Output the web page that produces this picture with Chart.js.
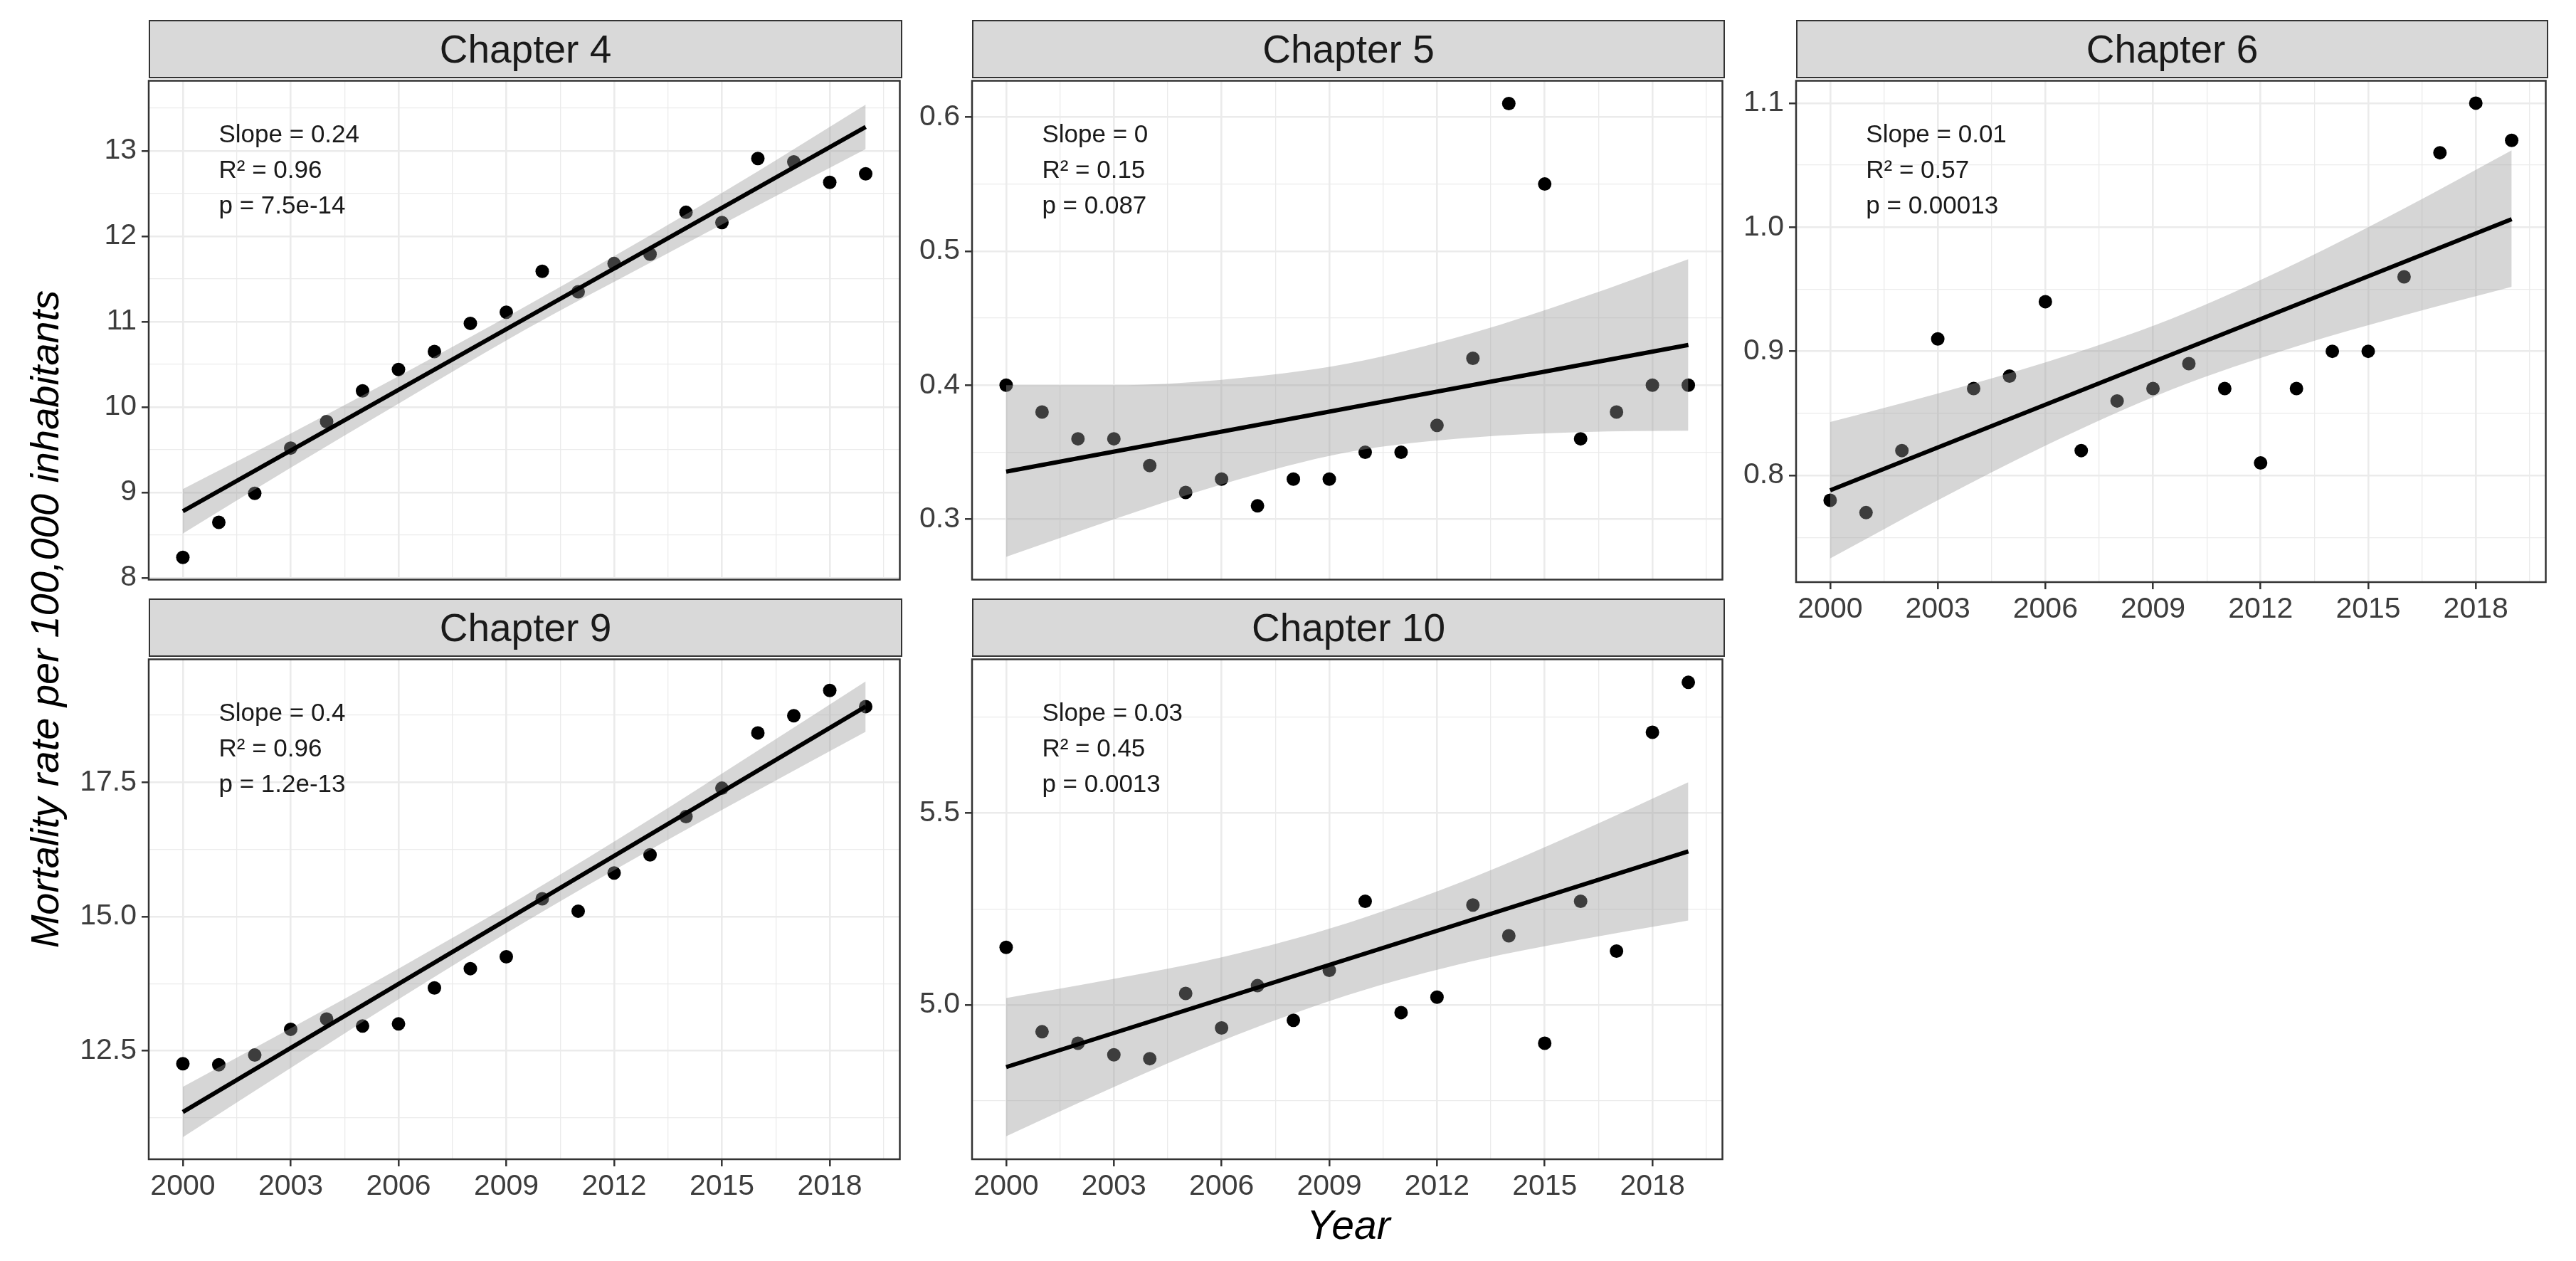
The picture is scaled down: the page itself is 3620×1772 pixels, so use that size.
<!DOCTYPE html>
<html lang="en">
<head>
<meta charset="UTF-8">
<title>Mortality rate per chapter, 2000-2019</title>
<script src="https://cdn.jsdelivr.net/npm/chart.js"></script>
<style>
  body {
    margin: 0;
    width: 3620px;
    height: 1772px;
    position: relative;
    overflow: hidden;
    background: #fff;
    font-family: 'Liberation Sans', Arial, sans-serif;
  }
  canvas { position: absolute; }
  .strip {
    position: absolute;
    box-sizing: border-box;
    height: 82px;
    background: #d9d9d9;
    border: 2.5px solid #333;
    color: #1a1a1a;
    font-size: 55px;
    display: flex;
    align-items: center;
    justify-content: center;
  }
  .ytitle {
    position: absolute;
    left: 62px;
    top: 870px;
    transform: translate(-50%, -50%) rotate(-90deg);
    font-size: 56px;
    font-style: italic;
    white-space: nowrap;
    color: #000;
  }
  .xtitle {
    position: absolute;
    left: 1895px;
    top: 1721px;
    transform: translate(-50%, -50%);
    font-size: 57px;
    font-style: italic;
    color: #000;
  }
</style>
</head>
<body>

<div class="ytitle">Mortality rate per 100,000 inhabitants</div>
<div class="xtitle">Year</div>

<script>
  // ---- data ----
  const years = [2000, 2001, 2002, 2003, 2004, 2005, 2006, 2007, 2008, 2009,
                 2010, 2011, 2012, 2013, 2014, 2015, 2016, 2017, 2018, 2019];
  const yearTicks = [2000, 2003, 2006, 2009, 2012, 2015, 2018];

  const ch4Rates  = [8.24, 8.65, 8.99, 9.52, 9.83, 10.19, 10.44, 10.65, 10.98, 11.11,
                     11.59, 11.35, 11.68, 11.79, 12.28, 12.16, 12.91, 12.87, 12.63, 12.73];
  const ch5Rates  = [0.40, 0.38, 0.36, 0.36, 0.34, 0.32, 0.33, 0.31, 0.33, 0.33,
                     0.35, 0.35, 0.37, 0.42, 0.61, 0.55, 0.36, 0.38, 0.40, 0.40];
  const ch6Rates  = [0.78, 0.77, 0.82, 0.91, 0.87, 0.88, 0.94, 0.82, 0.86, 0.87,
                     0.89, 0.87, 0.81, 0.87, 0.90, 0.90, 0.96, 1.06, 1.10, 1.07];
  const ch9Rates  = [12.26, 12.24, 12.42, 12.90, 13.09, 12.96, 13.00, 13.67, 14.03, 14.25,
                     15.33, 15.10, 15.81, 16.15, 16.86, 17.39, 18.42, 18.74, 19.21, 18.91];
  const ch10Rates = [5.15, 4.93, 4.90, 4.87, 4.86, 5.03, 4.94, 5.05, 4.96, 5.09,
                     5.27, 4.98, 5.02, 5.26, 5.18, 4.90, 5.27, 5.14, 5.71, 5.84];

  // fitted line at 2000 and 2019
  const fitYears = [2000, 2019];
  const ch4Fit  = [8.78, 13.28];
  const ch5Fit  = [0.3355, 0.430];
  const ch6Fit  = [0.788, 1.0065];
  const ch9Fit  = [11.36, 18.91];
  const ch10Fit = [4.838, 5.40];

  // confidence band edges, read at these years
  const bandYears = [2000, 2003, 2006, 2009.5, 2013, 2016, 2019];
  const ch4Upper  = [9.04, 9.69, 10.36, 11.17, 12.01, 12.76, 13.54];
  const ch4Lower  = [8.52, 9.29, 10.04, 10.90, 11.69, 12.36, 13.02];
  const ch5Upper  = [0.400, 0.400, 0.404, 0.416, 0.439, 0.465, 0.494];
  const ch5Lower  = [0.272, 0.300, 0.326, 0.350, 0.361, 0.365, 0.366];
  const ch6Upper  = [0.843, 0.866, 0.891, 0.926, 0.971, 1.015, 1.062];
  const ch6Lower  = [0.733, 0.780, 0.824, 0.869, 0.904, 0.929, 0.952];
  const ch9Upper  = [11.83, 12.92, 14.03, 15.38, 16.81, 18.09, 19.38];
  const ch9Lower  = [10.89, 12.18, 13.46, 14.89, 16.24, 17.35, 18.44];
  const ch10Upper = [5.018, 5.068, 5.124, 5.213, 5.332, 5.452, 5.580];
  const ch10Lower = [4.658, 4.786, 4.906, 5.025, 5.114, 5.170, 5.220];

  // y axis ticks and labels
  const ch4YTicks  = [8, 9, 10, 11, 12, 13];
  const ch4YLabels = ['8', '9', '10', '11', '12', '13'];
  const ch5YTicks  = [0.3, 0.4, 0.5, 0.6];
  const ch5YLabels = ['0.3', '0.4', '0.5', '0.6'];
  const ch6YTicks  = [0.8, 0.9, 1.0, 1.1];
  const ch6YLabels = ['0.8', '0.9', '1.0', '1.1'];
  const ch9YTicks  = [12.5, 15, 17.5];
  const ch9YLabels = ['12.5', '15.0', '17.5'];
  const ch10YTicks  = [5.0, 5.5];
  const ch10YLabels = ['5.0', '5.5'];

  const ch4Stats  = ['Slope = 0.24', 'R\u00B2 = 0.96', 'p = 7.5e-14'];
  const ch5Stats  = ['Slope = 0', 'R\u00B2 = 0.15', 'p = 0.087'];
  const ch6Stats  = ['Slope = 0.01', 'R\u00B2 = 0.57', 'p = 0.00013'];
  const ch9Stats  = ['Slope = 0.4', 'R\u00B2 = 0.96', 'p = 1.2e-13'];
  const ch10Stats = ['Slope = 0.03', 'R\u00B2 = 0.45', 'p = 0.0013'];

  // ---- layout (pixels of the plot area of each panel) ----
  const panels = [
    { title: 'Chapter 4',  left: 209,  top: 110, w: 1059, h: 708, yMin: 7.98,  yMax: 13.82, rates: ch4Rates,  fit: ch4Fit,  up: ch4Upper,  lo: ch4Lower,  yt: ch4YTicks,  yl: ch4YLabels,  stats: ch4Stats,  xLabels: false },
    { title: 'Chapter 5',  left: 1366, top: 110, w: 1058, h: 708, yMin: 0.255, yMax: 0.627, rates: ch5Rates,  fit: ch5Fit,  up: ch5Upper,  lo: ch5Lower,  yt: ch5YTicks,  yl: ch5YLabels,  stats: ch5Stats,  xLabels: false },
    { title: 'Chapter 6',  left: 2524, top: 110, w: 1057, h: 708, yMin: 0.714, yMax: 1.118, rates: ch6Rates,  fit: ch6Fit,  up: ch6Upper,  lo: ch6Lower,  yt: ch6YTicks,  yl: ch6YLabels,  stats: ch6Stats,  xLabels: true },
    { title: 'Chapter 9',  left: 209,  top: 923, w: 1059, h: 706, yMin: 10.48, yMax: 19.79, rates: ch9Rates,  fit: ch9Fit,  up: ch9Upper,  lo: ch9Lower,  yt: ch9YTicks,  yl: ch9YLabels,  stats: ch9Stats,  xLabels: true },
    { title: 'Chapter 10', left: 1366, top: 923, w: 1058, h: 706, yMin: 4.598, yMax: 5.90,  rates: ch10Rates, fit: ch10Fit, up: ch10Upper, lo: ch10Lower, yt: ch10YTicks, yl: ch10YLabels, stats: ch10Stats, xLabels: true }
  ];

  const X_MIN = 1999.05, X_MAX = 2019.95;
  const FONT = "'Liberation Sans', Arial, sans-serif";
  const TICK_COLOR = '#3d3d3d';

  const near = (a, b) => Math.abs(a - b) < 1e-6;
  const pairs = (xs, ys) => xs.map((x, i) => ({ x: x, y: ys[i] }));

  // majors plus the ggplot-style minor lines halfway between them
  function withMinors(majors, lo, hi) {
    const step = majors[1] - majors[0];
    const all = majors.slice();
    for (let i = -1; i < majors.length; i++) {
      const m = majors[0] + (i + 0.5) * step;
      if (m > lo && m < hi) all.push(m);
    }
    return all.sort((a, b) => a - b);
  }

  // stats text + panel border
  const panelDecor = {
    id: 'panelDecor',
    afterDatasetsDraw(chart, args, opts) {
      const { ctx, chartArea, scales } = chart;
      ctx.save();
      ctx.font = '35px ' + FONT;
      ctx.fillStyle = '#1a1a1a';
      ctx.textBaseline = 'middle';
      ctx.textAlign = 'left';
      const x = scales.x.getPixelForValue(2001);
      opts.lines.forEach((t, i) => ctx.fillText(t, x, chartArea.top + 77 + i * 50));
      ctx.strokeStyle = '#333';
      ctx.lineWidth = 2.5;
      ctx.strokeRect(chartArea.left, chartArea.top, chartArea.right - chartArea.left, chartArea.bottom - chartArea.top);
      ctx.restore();
    }
  };

  function buildPanel(p) {
    const yW = 150, padT = 6, padR = 6;
    const xH = p.xLabels ? 80 : 0;
    const padB = p.xLabels ? 0 : 6;

    const strip = document.createElement('div');
    strip.className = 'strip';
    strip.style.left = p.left + 'px';
    strip.style.top = (p.top - 82) + 'px';
    strip.style.width = p.w + 'px';
    strip.textContent = p.title;
    document.body.appendChild(strip);

    const cv = document.createElement('canvas');
    cv.width = p.w + yW + padR;
    cv.height = p.h + padT + xH + padB;
    cv.style.left = (p.left - yW) + 'px';
    cv.style.top = (p.top - padT) + 'px';
    document.body.appendChild(cv);

    const xAll = withMinors(yearTicks, X_MIN, X_MAX);
    const yAll = withMinors(p.yt, p.yMin, p.yMax);
    const isMajorX = v => yearTicks.some(t => near(t, v));
    const isMajorY = v => p.yt.some(t => near(t, v));

    new Chart(cv, {
      type: 'line',
      data: {
        datasets: [
          { // fitted line
            data: pairs(fitYears, p.fit),
            borderColor: '#000', borderWidth: 6, pointRadius: 0, fill: false, order: 0
          },
          { // upper band edge, filled down to the lower one
            data: pairs(bandYears, p.up),
            borderWidth: 0, borderColor: 'rgba(0,0,0,0)', pointRadius: 0,
            backgroundColor: 'rgba(153,153,153,0.4)', fill: '+1',
            cubicInterpolationMode: 'monotone', order: 1
          },
          { // lower band edge
            data: pairs(bandYears, p.lo),
            borderWidth: 0, borderColor: 'rgba(0,0,0,0)', pointRadius: 0, fill: false,
            cubicInterpolationMode: 'monotone', order: 2
          },
          { // observed rates
            data: pairs(years, p.rates),
            showLine: false, pointRadius: 9.5, pointBackgroundColor: '#000',
            pointBorderWidth: 0, order: 3
          }
        ]
      },
      options: {
        responsive: false,
        animation: false,
        events: [],
        layout: { padding: { top: padT, right: padR, bottom: padB, left: 0 } },
        plugins: {
          legend: { display: false },
          tooltip: { enabled: false },
          panelDecor: { lines: p.stats }
        },
        scales: {
          x: {
            type: 'linear', min: X_MIN, max: X_MAX,
            afterBuildTicks: s => { s.ticks = xAll.map(v => ({ value: v })); },
            afterFit: s => { s.height = xH; s.paddingLeft = 0; s.paddingRight = 0; },
            ticks: {
              display: p.xLabels, autoSkip: false, maxRotation: 0, padding: 4,
              color: TICK_COLOR, font: { size: 41, family: FONT },
              callback: v => isMajorX(v) ? String(Math.round(v)) : ''
            },
            grid: {
              color: '#ebebeb',
              lineWidth: c => (c.tick && isMajorX(c.tick.value)) ? 2.6 : 1.3,
              drawTicks: p.xLabels, tickLength: 10, tickWidth: 2.5,
              tickColor: c => (c.tick && isMajorX(c.tick.value)) ? '#333' : 'rgba(0,0,0,0)'
            },
            border: { display: false }
          },
          y: {
            type: 'linear', min: p.yMin, max: p.yMax,
            afterBuildTicks: s => { s.ticks = yAll.map(v => ({ value: v })); },
            afterFit: s => { s.width = yW; s.paddingTop = 0; s.paddingBottom = 0; },
            ticks: {
              autoSkip: false, padding: 7,
              color: TICK_COLOR, font: { size: 41, family: FONT },
              callback: v => {
                const i = p.yt.findIndex(t => near(t, v));
                return i >= 0 ? p.yl[i] : '';
              }
            },
            grid: {
              color: '#ebebeb',
              lineWidth: c => (c.tick && isMajorY(c.tick.value)) ? 2.6 : 1.3,
              tickLength: 10, tickWidth: 2.5,
              tickColor: c => (c.tick && isMajorY(c.tick.value)) ? '#333' : 'rgba(0,0,0,0)'
            },
            border: { display: false }
          }
        }
      },
      plugins: [panelDecor]
    });
  }

  panels.forEach(buildPanel);
</script>

</body>
</html>
